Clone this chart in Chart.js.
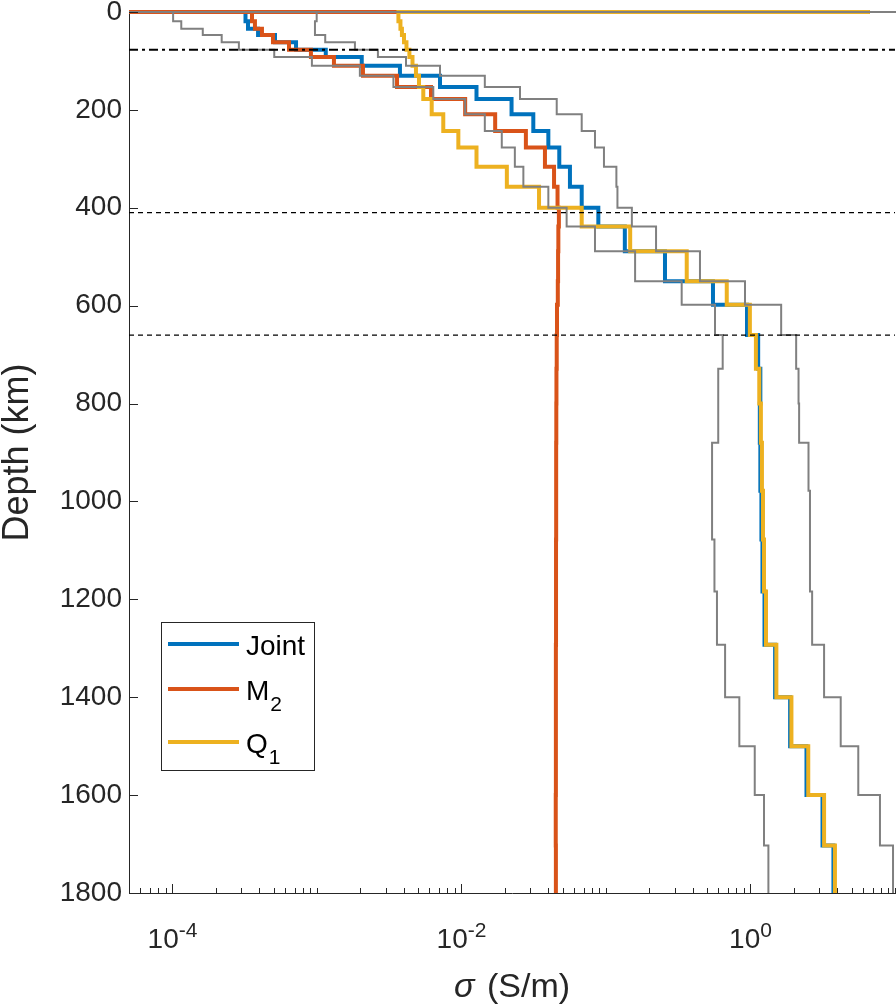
<!DOCTYPE html>
<html>
<head>
<meta charset="utf-8">
<script src="https://cdn.jsdelivr.net/npm/chart.js@4.4.0/dist/chart.umd.min.js"></script>
<style>
  html, body { margin: 0; padding: 0; background: #fff; overflow: hidden; }
  #sigma_chart { display: block; }
</style>
</head>
<body>
<canvas id="sigma_chart" width="896" height="1005"></canvas>
<script>
// 1 data
// top of every layer (km), last layer goes down to bottomDepth
const layerTops = [0, 19, 34, 47, 62, 77, 92, 110, 130, 153, 178, 209, 243, 277, 316, 357, 400,
  438, 489, 550, 598, 660, 729, 800, 880, 978, 1078, 1184, 1293, 1400, 1500, 1600, 1703];
const bottomDepth = 1800;

// conductivity of each layer (S/m)
const jointSigma = [3.20e-4, 3.33e-4, 3.91e-4, 5.12e-4, 7.16e-4, 1.15e-3, 2.04e-3, 3.75e-3, 7.10e-3,
  1.27e-2, 2.22e-2, 3.14e-2, 3.99e-2, 4.75e-2, 5.63e-2, 6.79e-2, 8.85e-2, 0.135, 0.256, 0.550, 0.946,
  1.13, 1.17, 1.16, 1.17, 1.19, 1.21, 1.25, 1.48, 1.88, 2.44, 3.15, 3.75];
const m2Sigma = [3.55e-4, 3.72e-4, 4.16e-4, 4.96e-4, 6.40e-4, 9.08e-4, 1.31e-3, 2.08e-3, 3.58e-3,
  6.15e-3, 1.06e-2, 1.71e-2, 2.79e-2, 3.78e-2, 4.37e-2, 4.62e-2, 4.72e-2, 4.68e-2, 4.66e-2, 4.64e-2,
  4.58e-2, 4.56e-2, 4.54e-2, 4.53e-2, 4.52e-2, 4.52e-2, 4.51e-2, 4.51e-2, 4.50e-2, 4.50e-2, 4.50e-2,
  4.49e-2, 4.50e-2];
const q1Sigma = [3.66e-3, 3.78e-3, 3.87e-3, 4.00e-3, 4.16e-3, 4.36e-3, 4.58e-3, 4.84e-3, 5.08e-3,
  5.44e-3, 6.22e-3, 7.48e-3, 9.51e-3, 1.27e-2, 2.06e-2, 3.44e-2, 6.79e-2, 0.147, 0.362, 0.685, 0.99,
  1.09, 1.15, 1.18, 1.20, 1.22, 1.24, 1.28, 1.51, 1.92, 2.51, 3.23, 3.84];
const lowerSigma = [1.01e-4, 1.15e-4, 1.62e-4, 2.19e-4, 2.88e-4, 5.06e-4, 9.22e-4, 1.98e-3, 3.38e-3,
  6.38e-3, 1.06e-2, 1.45e-2, 1.90e-2, 2.34e-2, 2.68e-2, 3.99e-2, 5.34e-2, 8.39e-2, 0.159, 0.334, 0.568,
  0.642, 0.598, 0.598, 0.542, 0.542, 0.563, 0.586, 0.667, 0.837, 1.07, 1.24, 1.33];
const upperSigma = [9.95e-4, 9.68e-4, 9.68e-4, 1.14e-3, 1.83e-3, 2.64e-3, 4.13e-3, 7.10e-3, 1.45e-2,
  2.54e-2, 4.56e-2, 6.79e-2, 8.39e-2, 9.68e-2, 0.118, 0.120, 0.151, 0.222, 0.447, 0.916, 1.63,
  2.07, 2.15, 2.17, 2.52, 2.58, 2.58, 2.67, 3.23, 4.21, 5.57, 7.87, 9.69];

// surface values at 0 km (air, sea)
const airSigma = 1e-5;
const seaSigma = 6.7;
const seaSigmaBounds = 12;

// reference depths (km)
const labDepth = 77;
const discontinuities = [410, 660];

// axes
const xMin = 5e-5, xMax = 10;
const xLabelTicks = [1e-4, 1e-2, 1];
const xLabelExp = ['-4', '-2', '0'];
const yTicks = [0, 200, 400, 600, 800, 1000, 1200, 1400, 1600, 1800];
const xTitle = ['σ', ' (S/m)'];

const legendNames = [['Joint', ''], ['M', '2'], ['Q', '1']];
const colors = ['#0072BD', '#D95319', '#EDB120'];
const FONT = '"Liberation Sans", Arial, Helvetica, sans-serif';
const AXIS = '#262626';
const lineClip = {left: 0, top: 4, right: 3, bottom: 0};

//2 helpers
function profile(sigma, surface) {
  const pts = surface.map(s => ({x: s, y: 0}));
  layerTops.forEach((d, i) => pts.push({x: sigma[i], y: d}));
  pts.push({x: sigma[sigma.length - 1], y: bottomDepth});
  return pts;
}
function hline(depth) {
  return [{x: xMin, y: depth}, {x: xMax, y: depth}];
}
function isLabelled(v) {
  return xLabelTicks.findIndex(t => Math.abs(Math.log10(v / t)) < 1e-6);
}
function logTickValues() {
  const vals = [];
  for (let e = -5; e <= 1; e++) {
    for (let m = 1; m <= 9; m++) {
      const v = m * Math.pow(10, e);
      if (v > xMin * 1.0001 && v < xMax * 1.0001) vals.push(v);
    }
  }
  return vals;
}

const modelLine = (label, data, color, order) => ({
  label: label, data: data, borderColor: color, backgroundColor: color,
  borderWidth: 4, stepped: 'after', showLine: true, pointRadius: 0,
  borderJoinStyle: 'miter', order: order, clip: lineClip
});
const boundLine = (data) => ({
  label: 'bound', data: data, borderColor: '#808080', backgroundColor: '#808080',
  borderWidth: 2, stepped: 'after', showLine: true, pointRadius: 0,
  borderJoinStyle: 'miter', order: 1, clip: lineClip
});

// 3 plugins: inward matlab ticks, 10^n labels, x title, legend
const inwardTicks = {
  id: 'inwardTicks',
  afterDatasetsDraw(chart) {
    const c = chart.ctx, a = chart.chartArea, xs = chart.scales.x, ys = chart.scales.y;
    c.save();
    c.strokeStyle = AXIS;
    c.lineWidth = 1;
    c.beginPath();
    xs.ticks.forEach(t => {
      const px = Math.round(xs.getPixelForValue(t.value)) + 0.5;
      const len = isLabelled(t.value) >= 0 ? 9 : 5;
      c.moveTo(px, a.bottom);
      c.lineTo(px, a.bottom - len);
    });
    ys.ticks.forEach(t => {
      const py = Math.round(ys.getPixelForValue(t.value)) + 0.5;
      c.moveTo(a.left, py);
      c.lineTo(a.left + 9, py);
    });
    c.stroke();

    // decade labels with superscript exponent
    c.fillStyle = AXIS;
    c.textBaseline = 'alphabetic';
    c.textAlign = 'left';
    xLabelTicks.forEach((v, i) => {
      const px = xs.getPixelForValue(v);
      c.font = '28px ' + FONT;
      const wb = c.measureText('10').width;
      c.font = '21px ' + FONT;
      const we = c.measureText(xLabelExp[i]).width;
      const x0 = px - (wb + we) / 2;
      c.font = '28px ' + FONT;
      c.fillText('10', x0, a.bottom + 55);
      c.font = '21px ' + FONT;
      c.fillText(xLabelExp[i], x0 + wb, a.bottom + 44);
    });

    // axis title, sigma in italics
    const fi = 'italic 34px ' + FONT, fn = '34px ' + FONT;
    c.font = fi;
    const w1 = c.measureText(xTitle[0]).width + 3;
    c.font = fn;
    const w2 = c.measureText(xTitle[1]).width;
    const tx = (a.left + a.right) / 2 - (w1 + w2) / 2;
    c.font = fi;
    c.fillText(xTitle[0], tx, 997);
    c.font = fn;
    c.fillText(xTitle[1], tx + w1, 997);
    c.restore();
  }
};

const legendBox = {
  id: 'legendBox',
  afterDraw(chart) {
    const c = chart.ctx;
    const lineY = [644, 689, 742];
    c.save();
    c.fillStyle = '#fff';
    c.fillRect(161.5, 622.5, 153, 148);
    c.strokeStyle = AXIS;
    c.lineWidth = 1;
    c.strokeRect(161.5, 622.5, 153, 148);
    legendNames.forEach((n, i) => {
      c.strokeStyle = colors[i];
      c.lineWidth = 4;
      c.beginPath();
      c.moveTo(168, lineY[i]);
      c.lineTo(239, lineY[i]);
      c.stroke();
      c.fillStyle = '#000';
      c.textBaseline = 'alphabetic';
      c.textAlign = 'left';
      c.font = '28px ' + FONT;
      c.fillText(n[0], 246, lineY[i] + 11);
      if (n[1]) {
        const w = c.measureText(n[0]).width;
        c.font = '21px ' + FONT;
        c.fillText(n[1], 246 + w + 1, lineY[i] + 22);
      }
    });
    c.restore();
  }
};

// 4 chart
const ctx = document.getElementById('sigma_chart').getContext('2d');
const my_chart = new Chart(ctx, {
  type: 'scatter',
  data: {
    datasets: [
      {label: 'LAB', data: hline(labDepth), borderColor: '#000', borderWidth: 2,
        borderDash: [9, 4, 3, 4], showLine: true, pointRadius: 0, order: 0},
      {label: '410', data: hline(discontinuities[0]), borderColor: '#000', borderWidth: 1.2,
        borderDash: [5, 4], showLine: true, pointRadius: 0, order: 0},
      {label: '660', data: hline(discontinuities[1]), borderColor: '#000', borderWidth: 1.2,
        borderDash: [5, 4], showLine: true, pointRadius: 0, order: 0},
      boundLine(profile(lowerSigma, [airSigma, seaSigmaBounds])),
      boundLine(profile(upperSigma, [airSigma, seaSigmaBounds])),
      modelLine('Q₁', profile(q1Sigma, [seaSigma]), colors[2], 2),
      modelLine('M₂', profile(m2Sigma, [airSigma, seaSigma]), colors[1], 3),
      modelLine('Joint', profile(jointSigma, [airSigma, seaSigma]), colors[0], 4)
    ]
  },
  options: {
    responsive: false,
    animation: false,
    layout: {padding: {top: 12, right: 1, left: 0, bottom: 0}},
    plugins: {legend: {display: false}, tooltip: {enabled: false}},
    scales: {
      x: {
        type: 'logarithmic', min: xMin, max: xMax,
        afterBuildTicks: s => { s.ticks = logTickValues().map(v => ({value: v})); },
        afterFit: s => { s.height = 112; s.paddingLeft = 0; s.paddingRight = 0; },
        grid: {display: false, drawTicks: false},
        border: {display: true, color: AXIS, width: 1},
        ticks: {autoSkip: false, maxRotation: 0, callback: () => ''},
        title: {display: false}
      },
      y: {
        type: 'linear', reverse: true, min: 0, max: bottomDepth,
        afterBuildTicks: s => { s.ticks = yTicks.map(v => ({value: v})); },
        afterFit: s => { s.width = 129; s.paddingTop = 0; s.paddingBottom = 0; },
        grid: {display: false, drawTicks: false},
        border: {display: true, color: AXIS, width: 1},
        ticks: {padding: 7, color: AXIS, font: {family: FONT, size: 28},
          callback: v => String(v)},
        title: {display: true, text: 'Depth (km)', color: AXIS,
          font: {family: FONT, size: 36, lineHeight: 1}, padding: {top: 0, bottom: 0}}
      }
    }
  },
  plugins: [inwardTicks, legendBox]
});
</script>
</body>
</html>
